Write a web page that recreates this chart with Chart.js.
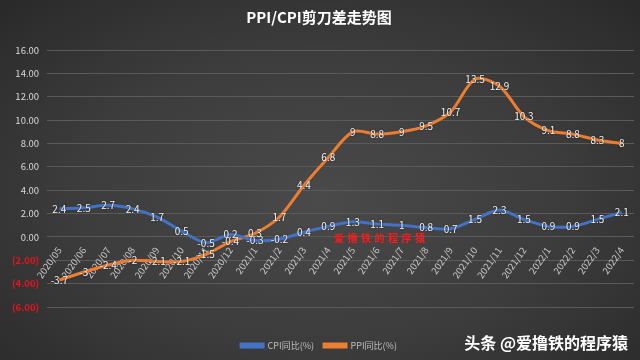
<!DOCTYPE html>
<html>
<head>
<meta charset="utf-8">
<script src="https://cdn.jsdelivr.net/npm/chart.js@4/dist/chart.umd.min.js"></script>
<style>
  html, body { margin: 0; padding: 0; }
  body {
    width: 640px; height: 360px; overflow: hidden;
    background: radial-gradient(ellipse 70% 75% at 50% 55%, #4a4a4a 0%, #3c3c3c 55%, #2a2a2a 100%);
  }
  #wrap { position: relative; width: 640px; height: 360px; }
</style>
</head>
<body>
<div id="wrap"><canvas id="chartContainer" width="640" height="360"></canvas></div>
<script>
// Data
const months = ['2020/05', '2020/06', '2020/07', '2020/08', '2020/09', '2020/10', '2020/11', '2020/12',
  '2021/1', '2021/2', '2021/3', '2021/4', '2021/5', '2021/6', '2021/7', '2021/8', '2021/9', '2021/10',
  '2021/11', '2021/12', '2022/1', '2022/2', '2022/3', '2022/4'];
const cpi = [2.4, 2.5, 2.7, 2.4, 1.7, 0.5, -0.5, 0.2, -0.3, -0.2, 0.4, 0.9, 1.3, 1.1, 1, 0.8, 0.7, 1.5, 2.3, 1.5, 0.9, 0.9, 1.5, 2.1];
const ppi = [-3.7, -3, -2.4, -2, -2.1, -2.1, -1.5, -0.4, 0.3, 1.7, 4.4, 6.8, 9, 8.8, 9, 9.5, 10.7, 13.5, 12.9, 10.3, 9.1, 8.8, 8.3, 8];

const FONT = "'Noto Sans CJK SC', 'Noto Sans', sans-serif";

// Value labels drawn on top of each point
const pointLabels = {
  id: 'pointLabels',
  afterDatasetsDraw(chart) {
    const ctx = chart.ctx;
    ctx.save();
    ctx.font = '10px ' + FONT;
    ctx.textAlign = 'center';
    ctx.textBaseline = 'middle';
    ctx.fillStyle = '#f2f2f2';
    ctx.shadowColor = 'rgba(0,0,0,0.6)';
    ctx.shadowBlur = 2;
    chart.data.datasets.forEach((ds, i) => {
      chart.getDatasetMeta(i).data.forEach((pt, j) => {
        ctx.fillText(String(ds.data[j]), pt.x, pt.y);
      });
    });
    ctx.restore();
  }
};

// Watermarks
const marks = {
  id: 'marks',
  afterDraw(chart) {
    const ctx = chart.ctx;
    ctx.save();
    ctx.fillStyle = '#ff1a1a';
    ctx.font = 'bold 10px ' + FONT;
    ctx.textBaseline = 'middle';
    const red = '爱撸铁的程序猿';
    for (let i = 0; i < red.length; i++) {
      ctx.fillText(red[i], 334 + i * 13.5, 238);
    }
    ctx.fillStyle = '#ffffff';
    ctx.font = 'bold 16px ' + FONT;
    ctx.textAlign = 'right';
    ctx.fillText('头条 @爱撸铁的程序猿', 628, 343);
    ctx.restore();
  }
};

const ctx = document.getElementById('chartContainer').getContext('2d');
const chart = new Chart(ctx, {
  type: 'line',
  data: {
    labels: months,
    datasets: [{
      label: 'CPI同比(%)',
      data: cpi,
      borderColor: '#4472C4',
      backgroundColor: '#4472C4',
      borderWidth: 3,
      pointRadius: 0,
      tension: 0.3
    }, {
      label: 'PPI同比(%)',
      data: ppi,
      borderColor: '#ED7D31',
      backgroundColor: '#ED7D31',
      borderWidth: 3,
      pointRadius: 0,
      tension: 0.3
    }]
  },
  options: {
    responsive: false,
    animation: false,
    layout: { padding: { left: 4, right: 6, top: 0, bottom: 0 } },
    plugins: {
      title: {
        display: true,
        text: 'PPI/CPI剪刀差走势图',
        color: '#ffffff',
        font: { family: FONT, size: 15, weight: 'bold' },
        padding: { top: 8, bottom: 24 }
      },
      legend: {
        position: 'bottom',
        labels: {
          color: '#bfbfbf',
          font: { family: FONT, size: 9 },
          boxWidth: 22,
          boxHeight: 3,
          padding: 10
        }
      },
      tooltip: { enabled: false }
    },
    scales: {
      x: {
        position: { y: 0 },
        offset: true,
        grid: { display: false },
        border: { display: false },
        ticks: {
          color: '#c8c8c8',
          font: { family: FONT, size: 9.5 },
          maxRotation: 55,
          minRotation: 55,
          autoSkip: false,
          padding: 0
        }
      },
      // empty spacer below the plot, keeps the legend at the bottom edge
      spacer: {
        type: 'linear',
        position: 'bottom',
        grid: { display: false },
        border: { display: false },
        ticks: { display: false },
        afterFit: (s) => { s.height = 24; }
      },
      y: {
        min: -6,
        max: 16,
        grid: { color: '#5a5a5a', lineWidth: 1, drawTicks: false },
        border: { display: false },
        ticks: {
          stepSize: 2,
          padding: 8,
          font: (c) => ({ family: FONT, size: 9.5, weight: c.tick && c.tick.value < 0 ? 'bold' : 'normal' }),
          color: (c) => c.tick.value < 0 ? '#e8141c' : '#d9d9d9',
          callback: (v) => v < 0 ? '(' + Math.abs(v).toFixed(2) + ')' : v.toFixed(2)
        }
      }
    }
  },
  plugins: [pointLabels, marks]
});
</script>
</body>
</html>
